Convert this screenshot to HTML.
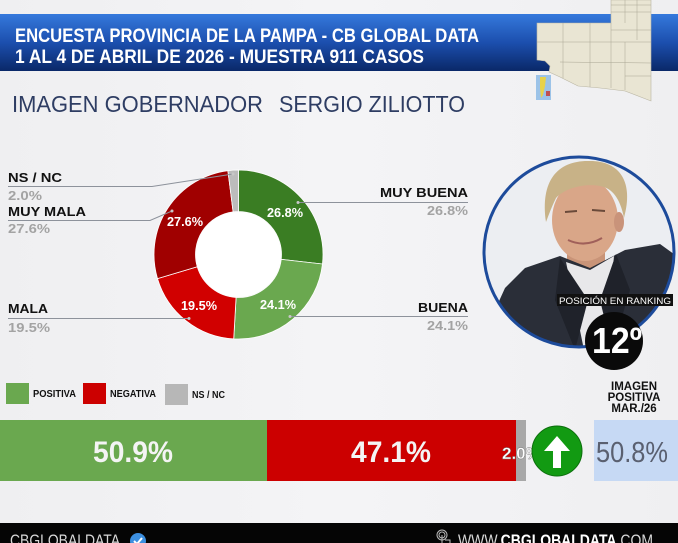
<!DOCTYPE html>
<html><head><meta charset="utf-8"><style>
html,body{margin:0;padding:0;background:#f1f1f3;}
svg{display:block;}
text{font-family:"Liberation Sans",Arial,sans-serif;}
</style></head><body>
<svg width="678" height="543" viewBox="0 0 678 543" xmlns="http://www.w3.org/2000/svg">
<defs>
<linearGradient id="band" x1="0" y1="0" x2="0" y2="1">
<stop offset="0" stop-color="#3579dc"/>
<stop offset="0.5" stop-color="#1c4fae"/>
<stop offset="1" stop-color="#0a2868"/>
</linearGradient>
<linearGradient id="bg" x1="0" y1="0" x2="1" y2="0">
<stop offset="0" stop-color="#efeff1"/>
<stop offset="0.5" stop-color="#f4f4f6"/>
<stop offset="1" stop-color="#efeff1"/>
</linearGradient>
<clipPath id="photo"><circle cx="579" cy="252" r="95"/></clipPath>
</defs>
<rect x="0" y="0" width="678" height="543" fill="url(#bg)"/>
<!-- header band -->
<rect x="0" y="14" width="678" height="57" fill="url(#band)"/>
<text x="15" y="42" fill="#ffffff" font-size="19" font-weight="bold" textLength="464" lengthAdjust="spacingAndGlyphs">ENCUESTA PROVINCIA DE LA PAMPA - CB GLOBAL DATA</text>
<text x="15" y="63" fill="#ffffff" font-size="19" font-weight="bold" textLength="409" lengthAdjust="spacingAndGlyphs">1 AL 4 DE ABRIL DE 2026 - MUESTRA 911 CASOS</text>
<!-- map -->
<polygon points="611,0 651,0 651,101 625,91 600,88 578,86 560,77 549,72 550,66 545,61 537,60 537,23 611,23" fill="#e9e5d3" stroke="#b9b5a3" stroke-width="0.6"/>
<g stroke="#a9a593" stroke-width="0.5" fill="none">
<line x1="611" y1="5" x2="651" y2="5"/><line x1="611" y1="12" x2="651" y2="12"/><line x1="625" y1="0" x2="625" y2="23"/>
<line x1="637" y1="0" x2="637" y2="40"/><line x1="537" y1="42" x2="651" y2="42"/>
<line x1="563" y1="23" x2="563" y2="78"/><line x1="590" y1="23" x2="590" y2="87"/><line x1="611" y1="23" x2="611" y2="88"/>
<line x1="560" y1="62" x2="651" y2="63"/><line x1="625" y1="42" x2="625" y2="90"/><line x1="611" y1="30" x2="651" y2="30"/>
<line x1="625" y1="76" x2="651" y2="76"/>
</g>
<rect x="536" y="75" width="15" height="25" fill="#9cc3e8"/>
<path d="M540,77 L546,77 L545,86 L543,95 L541,98 L540,88 Z" fill="#e8d24a"/>
<rect x="546" y="91" width="4" height="5" fill="#c05050"/>
<!-- heading -->
<text x="12" y="112" fill="#2e3d63" font-size="23" textLength="251" lengthAdjust="spacingAndGlyphs">IMAGEN GOBERNADOR</text>
<text x="279" y="112" fill="#2e3d63" font-size="23" textLength="186" lengthAdjust="spacingAndGlyphs">SERGIO ZILIOTTO</text>
<!-- donut -->
<g stroke="#ffffff" stroke-width="0.8">
<path d="M238.5,170 A84.5,84.5 0 0 1 322.46,264.04 L281.23,259.35 A43,43 0 0 0 238.5,211.5 Z" fill="#3a7d23"/>
<path d="M322.46,264.04 A84.5,84.5 0 0 1 233.72,338.86 L236.07,297.43 A43,43 0 0 0 281.23,259.35 Z" fill="#6aa84f"/>
<path d="M233.72,338.86 A84.5,84.5 0 0 1 157.5,278.58 L197.28,266.76 A43,43 0 0 0 236.07,297.43 Z" fill="#d10000"/>
<path d="M157.5,278.58 A84.5,84.5 0 0 1 227.91,170.67 L233.11,211.84 A43,43 0 0 0 197.28,266.76 Z" fill="#a00000"/>
<path d="M227.91,170.67 A84.5,84.5 0 0 1 238.5,170 L238.5,211.5 A43,43 0 0 0 233.11,211.84 Z" fill="#bcbcbc"/>
</g>
<circle cx="238.5" cy="254.5" r="42.5" fill="#ffffff"/>
<g fill="#ffffff" font-size="13" font-weight="bold" text-anchor="middle">
<text x="285" y="217" textLength="36" lengthAdjust="spacingAndGlyphs">26.8%</text>
<text x="278" y="309" textLength="36" lengthAdjust="spacingAndGlyphs">24.1%</text>
<text x="199" y="310" textLength="36" lengthAdjust="spacingAndGlyphs">19.5%</text>
<text x="185" y="226" textLength="36" lengthAdjust="spacingAndGlyphs">27.6%</text>
</g>
<!-- leader lines -->
<g stroke="#8d929b" stroke-width="1" fill="none">
<polyline points="8,186.5 152,186.5 233,174"/>
<polyline points="8,220.5 150,220.5 172,211"/>
<polyline points="298,202.5 468,202.5"/>
<polyline points="290,316.5 468,316.5"/>
<polyline points="8,318.5 189,318.5"/>
</g>
<g fill="#c8c8c8"><circle cx="233" cy="174" r="1.5"/><circle cx="172" cy="211" r="1.5"/><circle cx="298" cy="202.5" r="1.5"/><circle cx="290" cy="316.5" r="1.5"/><circle cx="189" cy="318.5" r="1.5"/></g>
<g font-size="13" font-weight="bold">
<text x="8" y="182" fill="#111" textLength="54" lengthAdjust="spacingAndGlyphs">NS / NC</text>
<text x="8" y="200" fill="#a3a3a3" textLength="34" lengthAdjust="spacingAndGlyphs">2.0%</text>
<text x="8" y="216" fill="#111" textLength="78" lengthAdjust="spacingAndGlyphs">MUY MALA</text>
<text x="8" y="233" fill="#a3a3a3" textLength="42" lengthAdjust="spacingAndGlyphs">27.6%</text>
<text x="8" y="313" fill="#111" textLength="40" lengthAdjust="spacingAndGlyphs">MALA</text>
<text x="8" y="332" fill="#a3a3a3" textLength="42" lengthAdjust="spacingAndGlyphs">19.5%</text>
<text x="380" y="197" fill="#111" textLength="88" lengthAdjust="spacingAndGlyphs">MUY BUENA</text>
<text x="427" y="215" fill="#a3a3a3" textLength="41" lengthAdjust="spacingAndGlyphs">26.8%</text>
<text x="418" y="312" fill="#111" textLength="50" lengthAdjust="spacingAndGlyphs">BUENA</text>
<text x="427" y="330" fill="#a3a3a3" textLength="41" lengthAdjust="spacingAndGlyphs">24.1%</text>
</g>
<!-- photo -->
<circle cx="579" cy="252" r="96" fill="#eef0f3"/>
<g clip-path="url(#photo)">
<rect x="480" y="150" width="200" height="200" fill="#eceef2"/>
<rect x="567" y="240" width="38" height="35" fill="#c99478"/>
<path d="M490,360 L495,310 L505,288 L525,268 L560,256 L590,268 L625,250 L660,244 L685,262 L685,360 Z" fill="#2a2e38"/>
<path d="M566,262 L590,270 L614,256 L606,350 L584,350 Z" fill="#e8e8ea"/>
<path d="M560,258 L588,300 L575,350 L555,300 Z" fill="#1f222a"/>
<path d="M616,254 L600,300 L612,350 L630,290 Z" fill="#1f222a"/>
<ellipse cx="585" cy="220" rx="33" ry="41" fill="#d9a688"/>
<ellipse cx="619" cy="222" rx="5" ry="10" fill="#c9937a"/>
<path d="M546,222 C540,180 558,160 590,161 C620,161 634,182 624,218 C620,198 612,188 600,186 C585,183 565,188 556,198 C552,206 549,214 546,222 Z" fill="#c8b287"/>
<path d="M568,240 Q585,248 602,238" stroke="#a0605a" stroke-width="2" fill="none"/>
<path d="M565,212 L577,211 M592,210 L605,211" stroke="#6a4a3a" stroke-width="2"/>
</g>
<circle cx="579" cy="252" r="95" fill="none" stroke="#1d4b9b" stroke-width="3"/>
<rect x="557" y="294" width="116" height="12" fill="#111"/>
<text x="559" y="304" fill="#fff" font-size="9.5" textLength="112" lengthAdjust="spacingAndGlyphs">POSICIÓN EN RANKING</text>
<circle cx="614" cy="341" r="29" fill="#0a0a0a"/>
<text x="617" y="353" fill="#fff" font-size="36" font-weight="bold" text-anchor="middle" textLength="50" lengthAdjust="spacingAndGlyphs">12º</text>
<!-- legend -->
<rect x="6" y="383" width="23" height="21" fill="#6aa84f"/>
<text x="33" y="397" fill="#111" font-size="10" font-weight="bold" textLength="43" lengthAdjust="spacingAndGlyphs">POSITIVA</text>
<rect x="83" y="383" width="23" height="21" fill="#cc0000"/>
<text x="110" y="397" fill="#111" font-size="10" font-weight="bold" textLength="46" lengthAdjust="spacingAndGlyphs">NEGATIVA</text>
<rect x="165" y="384" width="23" height="21" fill="#b7b7b7"/>
<text x="192" y="398" fill="#111" font-size="10" font-weight="bold" textLength="33" lengthAdjust="spacingAndGlyphs">NS / NC</text>
<!-- bar -->
<rect x="0" y="420" width="267" height="61" fill="#6aa84f"/>
<rect x="267" y="420" width="249" height="61" fill="#cc0000"/>
<rect x="516" y="420" width="10" height="61" fill="#a8a8a8"/>
<text x="133" y="462" fill="#f4f4f4" font-size="30" font-weight="bold" text-anchor="middle" textLength="80" lengthAdjust="spacingAndGlyphs">50.9%</text>
<text x="391" y="462" fill="#f4f4f4" font-size="30" font-weight="bold" text-anchor="middle" textLength="80" lengthAdjust="spacingAndGlyphs">47.1%</text>
<text x="502" y="459" fill="#fff" font-size="17" font-weight="bold" stroke="#777" stroke-width="0.4">2.0%</text>
<circle cx="557" cy="451" r="25" fill="#129a12" stroke="#0c6e0c" stroke-width="1"/>
<path d="M557,436 L570,451 L561,451 L561,468 L553,468 L553,451 L544,451 Z" fill="#fff"/>
<rect x="594" y="420" width="84" height="61" fill="#c6d9f4"/>
<text x="632" y="462" fill="#5a6070" font-size="29" text-anchor="middle" textLength="72" lengthAdjust="spacingAndGlyphs">50.8%</text>
<g fill="#111" font-size="11.5" font-weight="bold" text-anchor="middle">
<text x="634" y="390">IMAGEN</text>
<text x="634" y="401">POSITIVA</text>
<text x="634" y="412">MAR./26</text>
</g>
<!-- footer -->
<rect x="0" y="523" width="678" height="20" fill="#050505"/>
<text x="10" y="546" fill="#d8d8d8" font-size="17" textLength="110" lengthAdjust="spacingAndGlyphs">CBGLOBALDATA</text>
<circle cx="138" cy="541" r="8" fill="#3c8fe0"/>
<path d="M134,541 L137,544 L142,538" stroke="#fff" stroke-width="2" fill="none"/>
<g stroke="#bbb" stroke-width="1" fill="none"><circle cx="442" cy="535" r="5"/><circle cx="442" cy="535" r="3"/><path d="M442,535 L442,545 M445,540 L450,540 L450,545"/></g>
<text x="458" y="546" fill="#d8d8d8" font-size="17" textLength="195" lengthAdjust="spacingAndGlyphs">WWW.<tspan font-weight="bold" fill="#fff">CBGLOBALDATA</tspan>.COM</text>
</svg>
</body></html>
